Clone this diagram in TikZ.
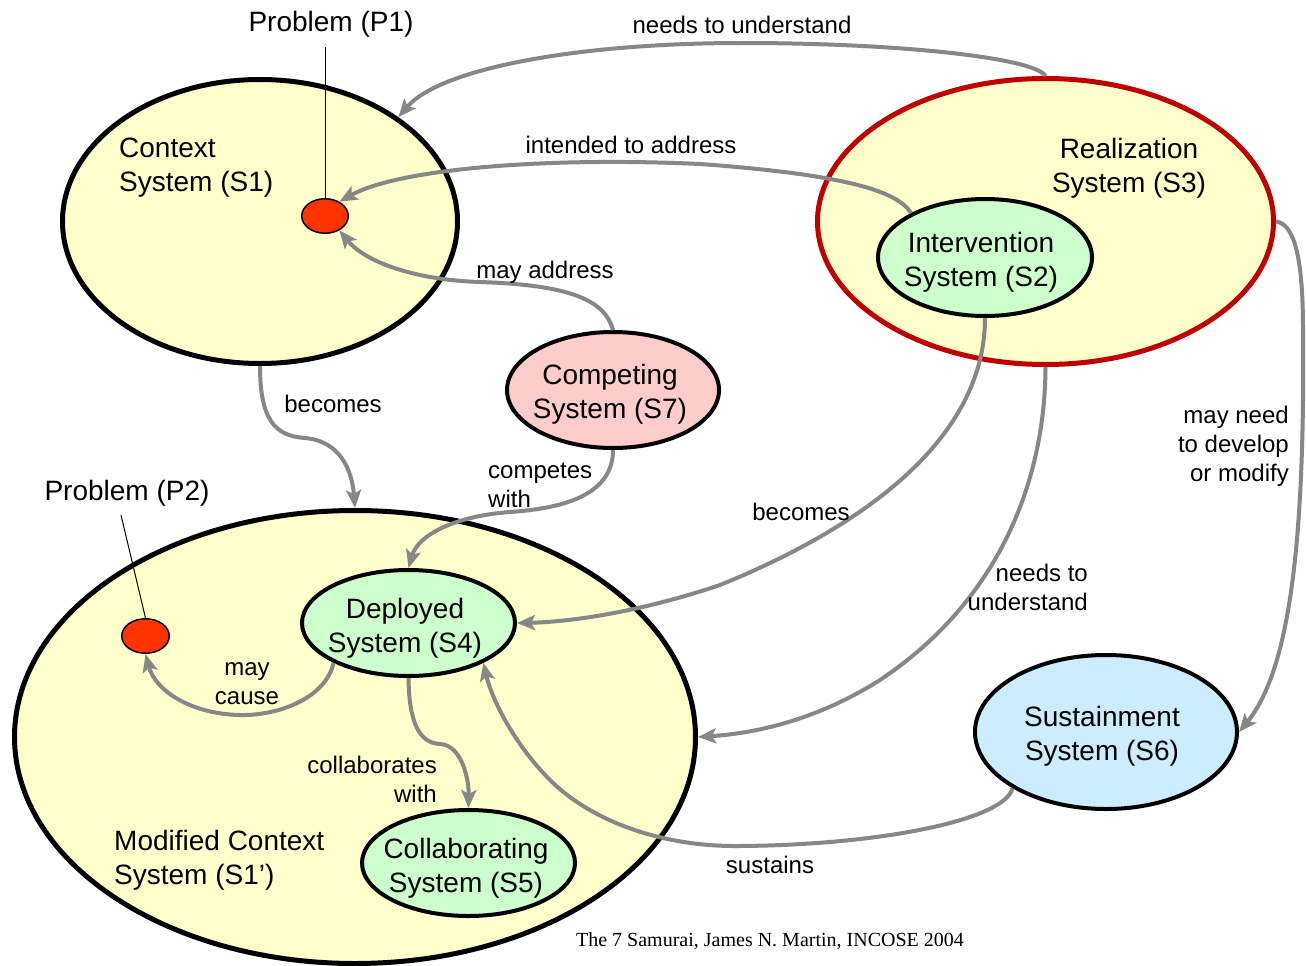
\documentclass[tikz,border=0pt]{standalone}
\usepackage{fontspec}
\setmainfont{Liberation Sans}
\newfontfamily\serifft{Liberation Serif}
\usetikzlibrary{shapes.geometric,arrows.meta}
\definecolor{yel}{HTML}{FFFFCC}
\definecolor{grn}{HTML}{CCFFCC}
\definecolor{pnk}{HTML}{FFCCCC}
\definecolor{blu}{HTML}{CCECFF}
\definecolor{prob}{HTML}{FF3300}
\definecolor{redb}{HTML}{C00000}
\definecolor{arr}{HTML}{878787}
\begin{document}
\begin{tikzpicture}[x=1pt,y=-1pt,
  sysb/.style={ellipse, draw=black, line width=4pt, inner sep=0pt},
  bigb/.style={ellipse, draw=black, line width=5pt, fill=yel, inner sep=0pt},
  prb/.style={ellipse, draw=black, line width=1.5pt, fill=prob, inner sep=0pt},
  lbl/.style={inner sep=0pt, font=\fontsize{24}{29}\selectfont},
  ttl/.style={inner sep=0pt, font=\fontsize{28}{34}\selectfont},
  rel/.style={draw=arr, line width=4pt, -{Stealth[length=18pt,width=15pt,inset=4pt]}},
]
\useasboundingbox (0,0) rectangle (1306,966);
\fill[white] (0,0) rectangle (1306,966);

% ellipses
\node[bigb, minimum width=681pt, minimum height=453pt] (S1m) at (355,737) {};
\node[sysb, fill=grn, minimum width=213pt, minimum height=106pt] (S4) at (408.5,623) {};
\node[sysb, fill=grn, minimum width=213pt, minimum height=106pt] (S5) at (468.5,863) {};
\node[prb, minimum width=47.5pt, minimum height=34.5pt] (P2) at (145.5,636) {};

\node[bigb, minimum width=395pt, minimum height=284pt] (S1) at (260,221.5) {};
\node[prb, minimum width=46.5pt, minimum height=34.5pt] (P1) at (325,216) {};

\node[ellipse, draw=redb, line width=5pt, fill=yel, inner sep=0pt, minimum width=456pt, minimum height=286pt] (S3) at (1045.5,221.5) {};
\node[sysb, fill=grn, minimum width=214pt, minimum height=117pt] (S2) at (985,257.5) {};

\node[sysb, fill=pnk, minimum width=212pt, minimum height=116pt] (S7) at (613,390) {};
\node[sysb, fill=blu, minimum width=262pt, minimum height=154pt] (S6) at (1106,732) {};

% problem pointers
\coordinate (p1top) at (325,47);
\coordinate (p2top) at (121,515);
\draw[line width=1pt] (p1top) -- (P1.north);
\draw[line width=1pt] (p2top) -- (P2.north);

% connectors
\draw[rel] (S3.north) .. controls (1035,58) and (900,43) .. (742,43) .. controls (580,43) and (440,68) .. (S1.37);
\draw[rel] (S2.149) .. controls (898,192) and (850,175) .. (700,164) .. controls (550,157) and (400,168) .. (P1.45);
\draw[rel] (S7.north) .. controls (605,300) and (570,285) .. (480,282) .. controls (415,280) and (365,262) .. (P1.-45);
\draw[rel] (S1.south) .. controls (260,420) and (275,436) .. (305,438) .. controls (340,441) and (352,470) .. (S1m.north);
\draw[rel] (S7.south) .. controls (613,492) and (570,508) .. (510,512) .. controls (455,516) and (418,535) .. (S4.north);
\draw[rel] (S2.south) .. controls (985,430) and (880,520) .. (720,585) .. controls (640,612) and (570,622) .. (S4.east);
\draw[rel] (S3.south) .. controls (1045,480) and (1000,600) .. (880,680) .. controls (820,718) and (760,733) .. (S1m.east);
\draw[rel] (S3.east) .. controls (1295,224) and (1303,260) .. (1303,330) .. controls (1305,540) and (1290,670) .. (S6.east);
\draw[rel] (S6.211) .. controls (1005,820) and (880,845) .. (740,846) .. controls (660,847) and (590,820) .. (550,780) .. controls (515,745) and (492,700) .. (S4.-28);
\draw[rel] (S4.208) .. controls (325,700) and (275,716) .. (240,715) .. controls (190,714) and (155,690) .. (P2.south);
\draw[rel] (S4.south) .. controls (409,720) and (418,743) .. (440,744) .. controls (462,745) and (469,780) .. (S5.north);

% system texts
\node[ttl, align=left, anchor=west] (t1) at (119,168) {Context\\System (S1)};
\node[ttl, align=center] (t3) at (1129,168) {Realization\\System (S3)};
\node[ttl, align=center] (t2) at (981,262) {Intervention\\System (S2)};
\node[ttl, align=center] (t7) at (610,394) {Competing\\System (S7)};
\node[ttl, align=center] (t4) at (405,628) {Deployed\\System (S4)};
\node[ttl, align=center] (t5) at (466,868) {Collaborating\\System (S5)};
\node[ttl, align=center] (t6) at (1102,736) {Sustainment\\System (S6)};
\node[ttl, align=left, anchor=west] (t1m) at (114,860) {Modified Context\\System (S1’)};
\node[ttl] (pl1) at (331,24) {Problem (P1)};
\node[ttl] (pl2) at (127,493) {Problem (P2)};

% connector labels
\node[lbl] (l1) at (742,25) {needs to understand};
\node[lbl] (l2) at (631,145) {intended to address};
\node[lbl] (l3) at (545,272) {may address};
\node[lbl] (l4) at (333,404) {becomes};
\node[lbl, align=left, anchor=west] (l5) at (488,485) {competes\\with};
\node[lbl] (l6) at (801,512) {becomes};
\node[lbl, align=right, anchor=east] (l7) at (1088,587) {needs to\\understand};
\node[lbl, align=right, anchor=east] (l8) at (1289,446) {may need\\to develop\\or modify};
\node[lbl, align=center] (l9) at (247,684) {may\\cause};
\node[lbl, align=right, anchor=east] (l10) at (437,779) {collaborates\\with};
\node[lbl] (l11) at (770,865) {sustains};

\node[inner sep=0pt, font=\serifft\fontsize{20}{24}\selectfont] (foot) at (770,941) {The 7 Samurai, James N. Martin, INCOSE 2004};
\end{tikzpicture}
\end{document}
